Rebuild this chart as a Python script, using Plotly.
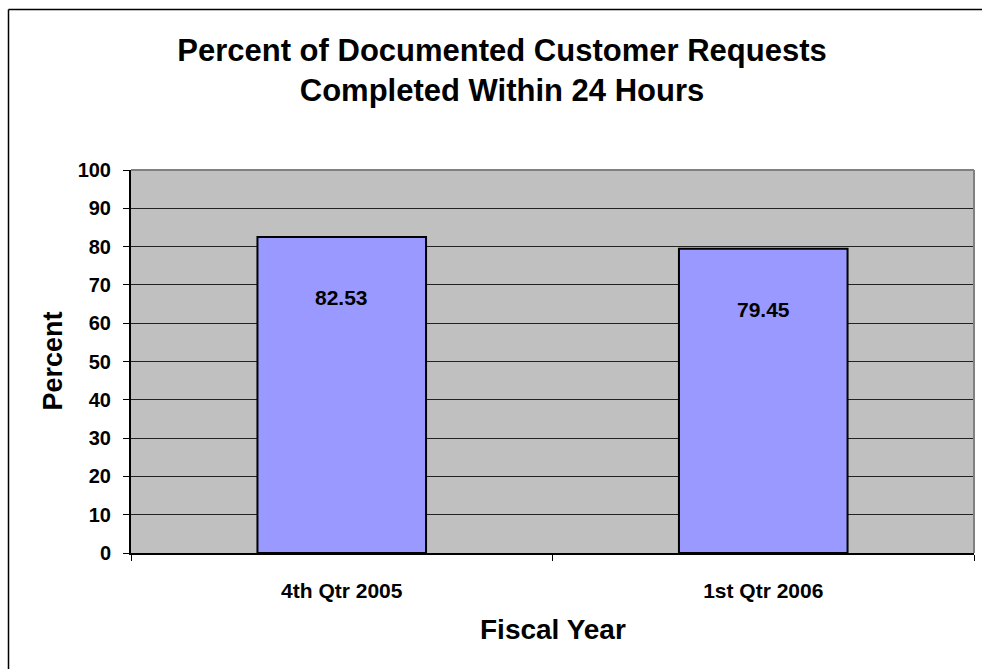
import plotly.graph_objects as go

# Quarterly share of documented customer requests closed within 24 hours
quarters = ["4th Qtr 2005", "1st Qtr 2006"]
percent_done = [82.53, 79.45]
y_ticks = [0, 10, 20, 30, 40, 50, 60, 70, 80, 90, 100]

W, H = 982, 669
L, R, T, B = 131, 8, 170, 116
plot_w = W - L - R
plot_h = H - T - B

FONT = "Liberation Sans, Arial, sans-serif"

fig = go.Figure()
fig.add_trace(go.Bar(
    x=quarters,
    y=percent_done,
    width=0.4,
    marker=dict(color="#9999FF", line=dict(color="#000000", width=2)),
    hoverinfo="x+y",
))

# value labels sit inside each bar, a fixed distance below its top
for q, v in zip(quarters, percent_done):
    fig.add_annotation(
        x=q, y=v, text=f"{v:.2f}", showarrow=False,
        yanchor="middle", yshift=-61,
        font=dict(family=FONT, size=21, color="#000000", weight="bold"),
    )

# axis titles
fig.add_annotation(
    xref="paper", yref="paper", x=(52 - L) / plot_w, y=0.5,
    text="Percent", textangle=-90, showarrow=False,
    xanchor="center", yanchor="middle",
    font=dict(family=FONT, size=27, color="#000000", weight="bold"),
)
fig.add_annotation(
    xref="paper", yref="paper", x=0.5, y=-(629 - (T + plot_h)) / plot_h,
    text="Fiscal Year", showarrow=False,
    xanchor="center", yanchor="middle",
    font=dict(family=FONT, size=28, color="#000000", weight="bold"),
)

# gray border on the top and right of the plot area
fig.add_shape(type="line", xref="paper", yref="paper", x0=0, x1=1, y0=1, y1=1,
              line=dict(color="#808080", width=2))
fig.add_shape(type="line", xref="paper", yref="paper", x0=1, x1=1, y0=0, y1=1,
              line=dict(color="#808080", width=2))

# outer chart frame (left and top edges)
fx0 = (8.5 - L) / plot_w
fy1 = 1 + (T - 9.5) / plot_h
fig.add_shape(type="line", xref="paper", yref="paper", x0=fx0, x1=fx0, y0=-1, y1=fy1,
              line=dict(color="#000000", width=1.5))
fig.add_shape(type="line", xref="paper", yref="paper", x0=fx0, x1=2, y0=fy1, y1=fy1,
              line=dict(color="#000000", width=1.5))

fig.update_layout(
    width=W, height=H,
    margin=dict(l=L, r=R, t=T, b=B),
    paper_bgcolor="#FFFFFF",
    plot_bgcolor="#C0C0C0",
    showlegend=False,
    bargap=0.6,
    title=dict(
        text="Percent of Documented Customer Requests<br>Completed Within 24 Hours",
        x=502 / W, xref="container", xanchor="center",
        y=1 - 61 / H, yref="container", yanchor="middle",
        font=dict(family=FONT, size=31, color="#000000", weight="bold"),
    ),
    xaxis=dict(
        type="category",
        showgrid=False,
        showline=True, linecolor="#000000", linewidth=2,
        ticks="outside", tickson="boundaries", ticklen=6, tickcolor="#000000",
        ticklabelstandoff=18,
        tickfont=dict(family=FONT, size=21, color="#000000", weight="bold"),
    ),
    yaxis=dict(
        range=[0, 100],
        tickvals=y_ticks,
        showgrid=True, gridcolor="#222222", gridwidth=1,
        showline=True, linecolor="#000000", linewidth=2,
        ticks="outside", ticklen=6, tickcolor="#000000",
        ticklabelstandoff=8,
        zeroline=False,
        tickfont=dict(family=FONT, size=20, color="#000000", weight="bold"),
    ),
)

fig.write_html("out.html")
